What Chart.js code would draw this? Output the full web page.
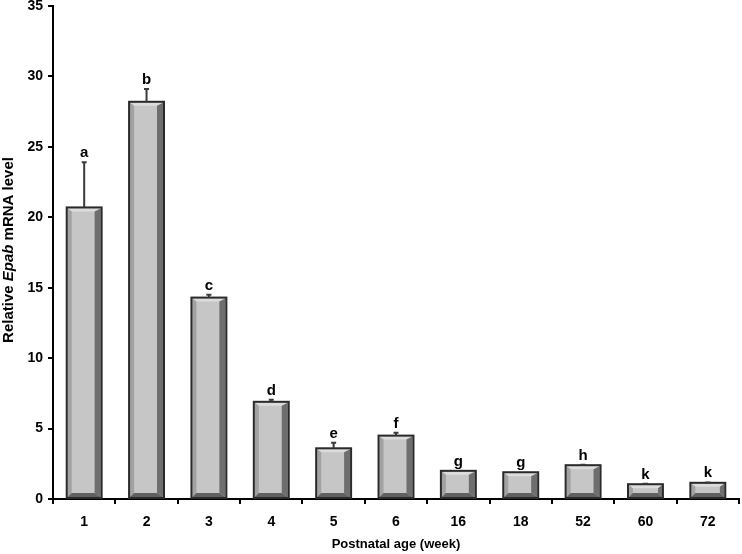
<!DOCTYPE html>
<html>
<head>
<meta charset="utf-8">
<script src="https://cdn.jsdelivr.net/npm/chart.js@4"></script>
<style>
  html, body { margin: 0; padding: 0; background: #fff; }
  #wrap { width: 742px; height: 554px; position: relative; }
</style>
</head>
<body>
<div id="wrap"><canvas id="c" width="742" height="554"></canvas></div>
<script>
const categories = ['1', '2', '3', '4', '5', '6', '16', '18', '52', '60', '72'];
const values = [20.7, 28.2, 14.3, 6.9, 3.6, 4.5, 2.0, 1.9, 2.4, 1.05, 1.15];
const errors = [3.2, 0.9, 0.2, 0.15, 0.4, 0.2, 0, 0, 0.04, 0.03, 0.03];
const letters = ['a', 'b', 'c', 'd', 'e', 'f', 'g', 'g', 'h', 'k', 'k'];
const yTicks = [0, 5, 10, 15, 20, 25, 30, 35];

const FONT = 'Liberation Sans, Arial, sans-serif';

const bevelPlugin = {
  id: 'bevel',
  afterDatasetsDraw(chart) {
    const ctx = chart.ctx;
    const meta = chart.getDatasetMeta(0);
    const yScale = chart.scales.y;
    meta.data.forEach((bar, i) => {
      const w = bar.width;
      const L = bar.x - w / 2 + 1, R = bar.x + w / 2 - 1;
      const T = bar.y + 1, B = bar.base - 1;
      const h = B - T;
      const sl = Math.min(4, h / 3), sr = Math.min(6, h / 3), sb = Math.min(4, h / 3), st = Math.min(3, h / 4);
      ctx.save();
      ctx.fillStyle = '#dcdcdc';
      ctx.beginPath(); ctx.moveTo(L, T); ctx.lineTo(R, T); ctx.lineTo(R - sr, T + st); ctx.lineTo(L + sl, T + st); ctx.closePath(); ctx.fill();
      ctx.fillStyle = '#a2a2a2';
      ctx.beginPath(); ctx.moveTo(L, T); ctx.lineTo(L + sl, T + st); ctx.lineTo(L + sl, B - sb); ctx.lineTo(L, B); ctx.closePath(); ctx.fill();
      ctx.fillStyle = '#6e6e6e';
      ctx.beginPath(); ctx.moveTo(R, T); ctx.lineTo(R - sr, T + st); ctx.lineTo(R - sr, B - sb); ctx.lineTo(R, B); ctx.closePath(); ctx.fill();
      ctx.fillStyle = '#606060';
      ctx.beginPath(); ctx.moveTo(L, B); ctx.lineTo(L + sl, B - sb); ctx.lineTo(R - sr, B - sb); ctx.lineTo(R, B); ctx.closePath(); ctx.fill();
      ctx.strokeStyle = '#2a2a2a';
      ctx.lineWidth = 2;
      ctx.strokeRect(bar.x - w / 2, bar.y, w, bar.base - bar.y);

      let topPx = bar.y;
      if (errors[i] > 0) {
        const ey = yScale.getPixelForValue(values[i] + errors[i]);
        ctx.strokeStyle = '#3a3a3a';
        ctx.lineWidth = 2;
        ctx.beginPath(); ctx.moveTo(bar.x, bar.y); ctx.lineTo(bar.x, ey);
        ctx.moveTo(bar.x - 2.5, ey); ctx.lineTo(bar.x + 2.5, ey); ctx.stroke();
        topPx = Math.min(bar.y, ey);
      }
      ctx.fillStyle = '#000';
      ctx.font = 'bold 15px ' + FONT;
      ctx.textAlign = 'center';
      ctx.textBaseline = 'alphabetic';
      ctx.fillText(letters[i], bar.x, topPx - 5);
      ctx.restore();
    });
  },
  afterDraw(chart) {
    const ctx = chart.ctx;
    const ca = chart.chartArea;
    ctx.save();
    ctx.fillStyle = '#000';
    ctx.font = 'bold 13px ' + FONT;
    ctx.textAlign = 'center';
    ctx.textBaseline = 'middle';
    ctx.fillText('Postnatal age (week)', (ca.left + ca.right) / 2, 544);
    const parts = [['Relative ', 'bold 15px '], ['Epab', 'italic bold 15px '], [' mRNA level', 'bold 15px ']];
    let total = 0;
    parts.forEach(p => { ctx.font = p[1] + FONT; total += ctx.measureText(p[0]).width; });
    ctx.translate(13, 250);
    ctx.rotate(-Math.PI / 2);
    ctx.textAlign = 'left';
    ctx.textBaseline = 'alphabetic';
    let x = -total / 2;
    parts.forEach(p => { ctx.font = p[1] + FONT; ctx.fillText(p[0], x, 0); x += ctx.measureText(p[0]).width; });
    ctx.restore();
  }
};

new Chart(document.getElementById('c'), {
  type: 'bar',
  data: {
    labels: categories,
    datasets: [{
      data: values,
      backgroundColor: '#c6c6c6',
      borderColor: '#2a2a2a',
      borderWidth: 0,
      categoryPercentage: 1.0,
      barPercentage: 0.56
    }]
  },
  options: {
    responsive: false,
    animation: false,
    devicePixelRatio: 1,
    layout: { padding: { top: 6, right: 3, left: 0, bottom: 0 } },
    plugins: { legend: { display: false }, tooltip: { enabled: false } },
    scales: {
      x: {
        offset: true,
        grid: { display: true, drawOnChartArea: false, offset: true, tickLength: 5, color: '#000', lineWidth: 2 },
        border: { display: true, color: '#000', width: 2 },
        ticks: { color: '#000', font: { family: FONT, size: 14, weight: 'bold' }, padding: 10, maxRotation: 0 },
        afterFit(s) { s.height = 55; }
      },
      y: {
        min: 0, max: 35,
        afterBuildTicks(s) { s.ticks = yTicks.map(v => ({ value: v })); },
        grid: { display: true, drawOnChartArea: false, tickLength: 5, color: '#000', lineWidth: 2 },
        border: { display: true, color: '#000', width: 2 },
        ticks: { color: '#000', font: { family: FONT, size: 14, weight: 'bold' }, padding: 5 },
        afterFit(s) { s.width = 53; s.paddingTop = 0; }
      }
    }
  },
  plugins: [bevelPlugin]
});
</script>
</body>
</html>
